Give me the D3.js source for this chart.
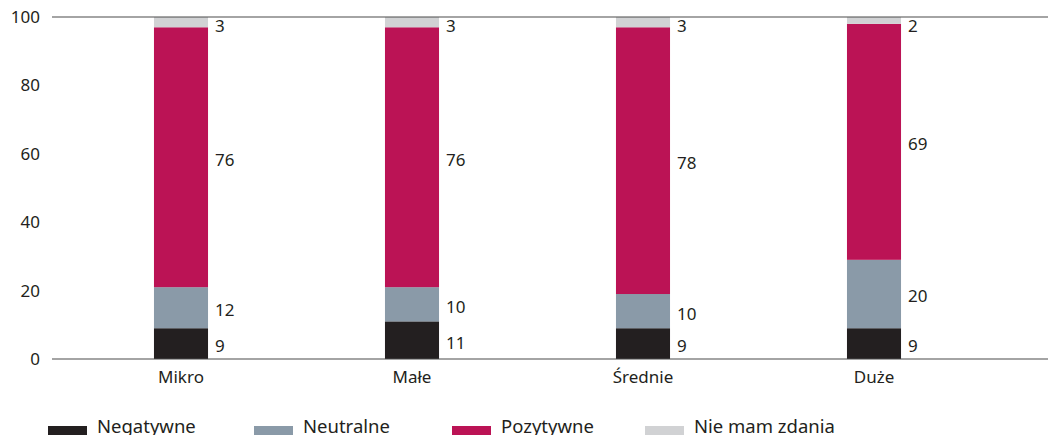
<!DOCTYPE html>
<html>
<head>
<meta charset="utf-8">
<script src="https://cdn.jsdelivr.net/npm/d3@7/dist/d3.min.js"></script>
<style>
  body { margin: 0; background: #fff; }
  svg text { font-family: "Noto Sans", "Open Sans", sans-serif; fill: #231f20; }
</style>
</head>
<body>
<svg id="chart" width="1048" height="435"></svg>
<script>
const categories = ["Mikro", "Małe", "Średnie", "Duże"];
const seriesNames = ["Negatywne", "Neutralne", "Pozytywne", "Nie mam zdania"];
const negatywne = [9, 11, 9, 9];
const neutralne = [12, 10, 10, 20];
const pozytywne = [76, 76, 78, 69];
const nieMamZdania = [3, 3, 3, 2];
const yTicks = [0, 20, 40, 60, 80, 100];
const colors = ["#231f20", "#8a9aa8", "#bb1355", "#d1d2d4"];

const rows = categories.map((c, i) => ({
  cat: c,
  Negatywne: negatywne[i],
  Neutralne: neutralne[i],
  Pozytywne: pozytywne[i],
  "Nie mam zdania": nieMamZdania[i]
}));

const svg = d3.select("#chart");
const lineX0 = 52, lineX1 = 1048;

const x = d3.scaleBand()
  .domain(categories)
  .range([65.5, 989.5])
  .paddingInner(0.766)
  .paddingOuter(0.383);

const y = d3.scaleLinear().domain([0, 100]).range([359, 17]);
const color = d3.scaleOrdinal().domain(seriesNames).range(colors);

// y tick labels
svg.append("g")
  .selectAll("text")
  .data(yTicks)
  .join("text")
  .attr("x", 40)
  .attr("y", d => y(d))
  .attr("dy", "0.35em")
  .attr("text-anchor", "end")
  .attr("font-size", 17)
  .text(d => d);

// stacked bars
const stacked = d3.stack().keys(seriesNames)(rows);

const layers = svg.append("g")
  .selectAll("g")
  .data(stacked)
  .join("g")
  .attr("fill", d => color(d.key));

layers.selectAll("rect")
  .data(d => d)
  .join("rect")
  .attr("x", d => x(d.data.cat))
  .attr("width", x.bandwidth())
  .attr("y", d => y(d[1]))
  .attr("height", d => y(d[0]) - y(d[1]));

// value labels beside each segment
layers.selectAll("text")
  .data(d => d.map(v => ({ v, key: d.key })))
  .join("text")
  .attr("x", d => x(d.v.data.cat) + x.bandwidth() + 7)
  .attr("y", d => {
    const mid = (y(d.v[0]) + y(d.v[1])) / 2 + 2.5;
    return d.key === "Nie mam zdania" ? y(d.v[1]) + 9 : mid;
  })
  .attr("dy", "0.35em")
  .attr("font-size", 17)
  .text(d => d.v[1] - d.v[0]);

// top and baseline rules
svg.append("g")
  .selectAll("line")
  .data([0, 100])
  .join("line")
  .attr("x1", lineX0)
  .attr("x2", lineX1)
  .attr("y1", d => y(d))
  .attr("y2", d => y(d))
  .attr("stroke", "#4a4a4a")
  .attr("stroke-width", 1.2);

// category labels
svg.append("g")
  .selectAll("text")
  .data(categories)
  .join("text")
  .attr("x", d => x(d) + x.bandwidth() / 2)
  .attr("y", 383)
  .attr("text-anchor", "middle")
  .attr("font-size", 17)
  .text(d => d);

// legend
const legendX = [48, 254, 452, 645];
const legend = svg.append("g")
  .selectAll("g")
  .data(seriesNames)
  .join("g")
  .attr("transform", (d, i) => `translate(${legendX[i]},0)`);

legend.append("rect")
  .attr("x", 0)
  .attr("y", 426)
  .attr("width", 39)
  .attr("height", 10)
  .attr("fill", d => color(d));

legend.append("text")
  .attr("x", 49)
  .attr("y", 432.5)
  .attr("font-size", 18.5)
  .text(d => d);
</script>
</body>
</html>
